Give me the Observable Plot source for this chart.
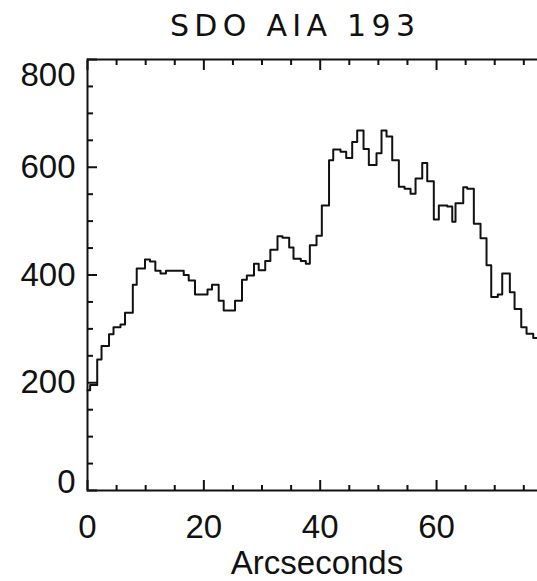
<!DOCTYPE html>
<html>
<head>
<meta charset="utf-8">
<script src="https://cdn.jsdelivr.net/npm/d3@7"></script>
<script src="https://cdn.jsdelivr.net/npm/@observablehq/plot@0.6"></script>
<style>
  html, body { margin: 0; padding: 0; background: #fff; overflow: hidden; }
  #wrap { position: relative; width: 537px; height: 581px; overflow: hidden; }
  #wrap svg { max-width: none; display: block; }
  #title {
    position: absolute; left: 170px; top: 11px;
    font: 30px/30px "DejaVu Sans", "Liberation Sans", sans-serif;
    letter-spacing: 5.3px; color: #111; white-space: nowrap;
  }
</style>
</head>
<body>
<div id="wrap"><div id="title">SDO AIA 193</div></div>
<script>
// Intensity profile along the slit (AIA 193 Å), drawn as a histogram-style step line.
// Left edge of each step, in arcseconds, plus the right end of the last step.
const edges = [
  0, 0.45, 1.67, 2.41, 3.70, 4.47, 5.67, 6.45, 7.79, 8.46,
  9.88, 10.74, 11.66, 12.55, 13.49, 16.54, 17.40, 18.48, 20.63, 21.40,
  22.55, 23.41, 25.36, 26.56, 27.39, 28.62, 29.43, 30.55, 31.43, 32.66,
  33.52, 34.67, 35.41, 36.67, 37.53, 38.22, 39.37, 40.28, 41.52, 42.24,
  43.49, 44.47, 45.50, 46.36, 47.45, 48.36, 49.68, 50.54, 51.40, 52.38,
  53.52, 54.50, 55.53, 56.39, 57.54, 58.40, 59.53, 60.39, 61.84, 62.70,
  63.26, 64.59, 65.27, 66.41, 67.56, 68.59, 69.40, 70.53, 71.29, 72.60,
  73.41, 74.56, 75.47, 76.62, 78.9
];
// Intensity of each step (DN).
const intensity = [
  186, 196, 243, 268, 290, 303, 308, 330, 382, 412,
  429, 425, 408, 403, 408, 400, 390, 364, 373, 382,
  352, 334, 352, 391, 399, 421, 409, 426, 447, 472,
  469, 451, 430, 426, 421, 455, 473, 529, 613, 633,
  629, 617, 647, 668, 634, 604, 626, 668, 657, 613,
  564, 560, 551, 579, 608, 574, 503, 529, 527, 499,
  533, 563, 560, 495, 468, 418, 359, 364, 403, 368,
  337, 303, 291, 283
];

const xMajor = [0, 20, 40, 60];
const xMinor = [5, 10, 15, 25, 30, 35, 45, 50, 55, 65, 70, 75];
const yMajor = [0, 200, 400, 600, 800];
const yMinor = [50, 100, 150, 250, 300, 350, 450, 500, 550, 650, 700, 750];
const yLabelsMid = [200, 400, 600];
const yLabelTop = [800];
const yLabelBottom = [0];

// step-after needs the closing edge repeated with the last value
const rows = intensity.map((v, i) => ({x: edges[i], v}));
rows.push({x: edges[edges.length - 1], v: intensity[intensity.length - 1]});

const ink = "#111";
const blank = () => "";
const tickOpts = {tickFormat: blank, label: null, stroke: ink, strokeWidth: 2};

const chart = Plot.plot({
  width: 560,
  height: 581,
  marginLeft: 87,
  marginRight: 14,
  marginTop: 59,
  marginBottom: 91,
  x: {domain: [0, 78.9]},
  y: {domain: [0, 800]},
  style: {
    fontFamily: '"Liberation Sans", Arial, sans-serif',
    fontSize: "33px",
    color: ink,
    background: "#fff",
    overflow: "hidden"
  },
  marks: [
    // inward ticks on all four sides
    Plot.axisX({anchor: "bottom", ticks: xMajor, tickSize: -10, ...tickOpts}),
    Plot.axisX({anchor: "bottom", ticks: xMinor, tickSize: -5, ...tickOpts}),
    Plot.axisX({anchor: "top", ticks: xMajor, tickSize: -10, ...tickOpts}),
    Plot.axisX({anchor: "top", ticks: xMinor, tickSize: -5, ...tickOpts}),
    Plot.axisY({anchor: "left", ticks: yMajor, tickSize: -10, ...tickOpts}),
    Plot.axisY({anchor: "left", ticks: yMinor, tickSize: -6, ...tickOpts}),
    Plot.axisY({anchor: "right", ticks: yMajor, tickSize: -10, ...tickOpts}),
    Plot.axisY({anchor: "right", ticks: yMinor, tickSize: -6, ...tickOpts}),
    // tick labels
    Plot.axisX({
      anchor: "bottom", ticks: xMajor, tickSize: 0, tickPadding: 24,
      label: "Arcseconds", labelAnchor: "center", labelOffset: 83, labelArrow: "none"
    }),
    Plot.axisY({anchor: "left", ticks: yLabelsMid, tickSize: 0, tickPadding: 12, label: null}),
    Plot.axisY({anchor: "left", ticks: yLabelTop, tickSize: 0, tickPadding: 12, label: null, dy: 16}),
    Plot.axisY({anchor: "left", ticks: yLabelBottom, tickSize: 0, tickPadding: 12, label: null, dy: -8}),
    Plot.frame({stroke: ink, strokeWidth: 2}),
    Plot.line(rows, {x: "x", y: "v", curve: "step-after", stroke: ink, strokeWidth: 2})
  ]
});

document.getElementById("wrap").prepend(chart);
</script>
</body>
</html>
